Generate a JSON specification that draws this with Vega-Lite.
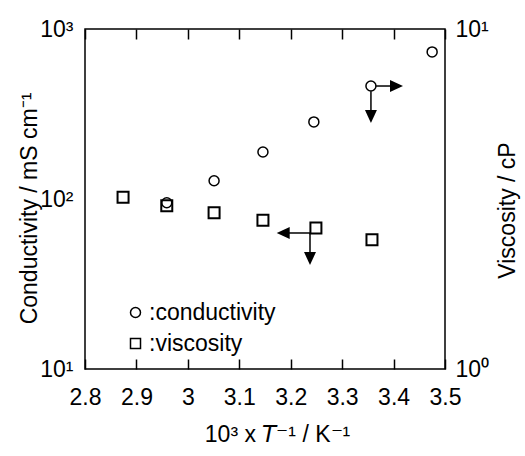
{
  "$schema": "https://vega.github.io/schema/vega-lite/v6.json",
  "width": 360,
  "height": 340,
  "autosize": {"type": "none"},
  "padding": {"left": 85, "top": 29, "right": 80, "bottom": 87},
  "background": "white",
  "config": {
    "font": "Liberation Sans",
    "view": {"stroke": "black", "strokeWidth": 1.5},
    "axis": {
      "grid": false,
      "domain": false,
      "labelFontSize": 23,
      "titleFontSize": 23,
      "titleFontWeight": "normal",
      "labelColor": "black",
      "titleColor": "black",
      "tickColor": "black",
      "labelFlush": false,
      "labelOverlap": false
    },
    "legend": {
      "orient": "none",
      "legendX": 39,
      "legendY": 272,
      "labelFontSize": 23,
      "labelColor": "black",
      "symbolStrokeColor": "black",
      "symbolStrokeWidth": 1.5,
      "symbolFillColor": "transparent",
      "symbolSize": 100,
      "labelOffset": 2,
      "rowPadding": 7,
      "padding": 0,
      "title": null
    }
  },
  "datasets": {
    "cond": [
      {"x": 2.959, "y": 95, "series": "conductivity"},
      {"x": 3.051, "y": 128, "series": "conductivity"},
      {"x": 3.146, "y": 189, "series": "conductivity"},
      {"x": 3.245, "y": 284, "series": "conductivity"},
      {"x": 3.356, "y": 462, "series": "conductivity"},
      {"x": 3.475, "y": 733, "series": "conductivity"}
    ],
    "visc": [
      {"x": 2.874, "y": 3.2, "series": "viscosity"},
      {"x": 2.959, "y": 3.02, "series": "viscosity"},
      {"x": 3.051, "y": 2.88, "series": "viscosity"},
      {"x": 3.146, "y": 2.74, "series": "viscosity"},
      {"x": 3.249, "y": 2.6, "series": "viscosity"},
      {"x": 3.358, "y": 2.4, "series": "viscosity"}
    ],
    "cond_lines": [
      {"x": 3.356, "x2": 3.356, "y": 431, "y2": 321},
      {"x": 3.366, "x2": 3.4, "y": 462, "y2": 462}
    ],
    "cond_head_down": [{"x": 3.356, "y": 306}],
    "cond_head_right": [{"x": 3.4057, "y": 462}],
    "visc_lines": [
      {"x": 3.2375, "x2": 3.19, "y": 2.512, "y2": 2.512},
      {"x": 3.2375, "x2": 3.2375, "y": 2.512, "y2": 2.15}
    ],
    "visc_head_left": [{"x": 3.1854, "y": 2.512}],
    "visc_head_down": [{"x": 3.2375, "y": 2.113}]
  },
  "layer": [
    {
      "encoding": {
        "x": {
          "field": "x",
          "type": "quantitative",
          "scale": {"domain": [2.8, 3.5], "nice": false, "zero": false},
          "axis": {
            "orient": "bottom",
            "values": [2.8, 2.9, 3.0, 3.1, 3.2, 3.3, 3.4, 3.5],
            "format": "~g",
            "tickSize": -10,
            "tickWidth": 1.5,
            "labelPadding": 27,
            "title": "10³ x 𝘛⁻¹ / K⁻¹",
            "titlePadding": 14,
            "titleX": 192
          }
        },
        "y": {
          "field": "y",
          "type": "quantitative",
          "scale": {"type": "log", "domain": [10, 1000], "nice": false},
          "axis": {
            "orient": "left",
            "values": [10, 100, 1000],
            "labelExpr": "datum.value == 10 ? '10¹' : datum.value == 100 ? '10²' : '10³'",
            "ticks": false,
            "labelPadding": 12,
            "title": "Conductivity / mS cm⁻¹",
            "titlePadding": -2,
            "titleY": 179
          }
        }
      },
      "layer": [
        {
          "data": {"name": "cond"},
          "mark": {"type": "point", "filled": false, "color": "black", "strokeWidth": 1.5, "size": 100, "opacity": 1},
          "encoding": {
            "shape": {
              "field": "series",
              "type": "nominal",
              "scale": {"domain": ["conductivity", "viscosity"], "range": ["circle", "square"]},
              "legend": {"labelExpr": "':' + datum.label"}
            }
          }
        },
        {
          "data": {"name": "cond_lines"},
          "mark": {"type": "rule", "color": "black", "strokeWidth": 1.5},
          "encoding": {"x2": {"field": "x2"}, "y2": {"field": "y2"}}
        },
        {
          "data": {"name": "cond_head_down"},
          "mark": {"type": "point", "shape": "M-0.92,-1L0.92,-1L0,1Z", "filled": true, "color": "black", "size": 169, "opacity": 1}
        },
        {
          "data": {"name": "cond_head_right"},
          "mark": {"type": "point", "shape": "M-1,-0.92L1,0L-1,0.92Z", "filled": true, "color": "black", "size": 169, "opacity": 1}
        }
      ]
    },
    {
      "encoding": {
        "x": {
          "field": "x",
          "type": "quantitative",
          "scale": {"domain": [2.8, 3.5], "nice": false, "zero": false},
          "axis": {
            "orient": "top",
            "values": [2.8, 2.9, 3.0, 3.1, 3.2, 3.3, 3.4, 3.5],
            "labels": false,
            "tickSize": -10,
            "tickWidth": 1.5,
            "title": null
          }
        },
        "y": {
          "field": "y",
          "type": "quantitative",
          "scale": {"type": "log", "domain": [1, 10], "nice": false},
          "axis": {
            "orient": "right",
            "values": [1, 10],
            "labelExpr": "datum.value == 1 ? '10⁰' : '10¹'",
            "ticks": false,
            "labelPadding": 10,
            "title": "Viscosity / cP",
            "titleAngle": 270,
            "titlePadding": 31,
            "titleY": 181
          }
        }
      },
      "layer": [
        {
          "data": {"name": "visc"},
          "mark": {"type": "point", "filled": false, "color": "black", "strokeWidth": 2, "size": 121, "opacity": 1},
          "encoding": {
            "shape": {
              "field": "series",
              "type": "nominal",
              "scale": {"domain": ["conductivity", "viscosity"], "range": ["circle", "square"]},
              "legend": {"labelExpr": "':' + datum.label"}
            }
          }
        },
        {
          "data": {"name": "visc_lines"},
          "mark": {"type": "rule", "color": "black", "strokeWidth": 1.5},
          "encoding": {"x2": {"field": "x2"}, "y2": {"field": "y2"}}
        },
        {
          "data": {"name": "visc_head_left"},
          "mark": {"type": "point", "shape": "M1,-0.92L-1,0L1,0.92Z", "filled": true, "color": "black", "size": 169, "opacity": 1}
        },
        {
          "data": {"name": "visc_head_down"},
          "mark": {"type": "point", "shape": "M-0.92,-1L0.92,-1L0,1Z", "filled": true, "color": "black", "size": 169, "opacity": 1}
        }
      ]
    }
  ],
  "resolve": {"scale": {"y": "independent"}, "axis": {"x": "independent"}}
}
